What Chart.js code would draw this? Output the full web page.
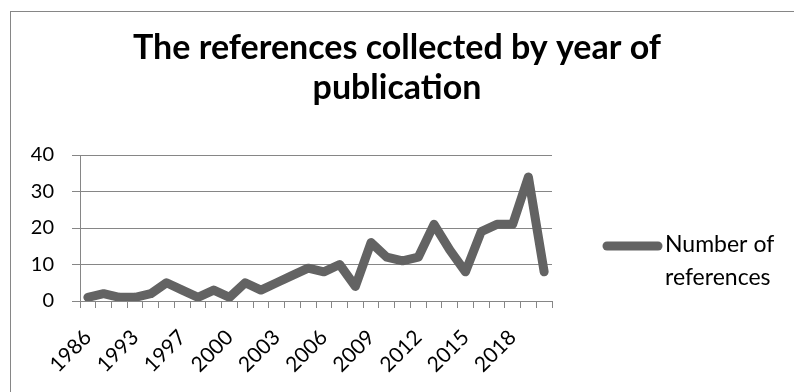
<!DOCTYPE html>
<html>
<head>
<meta charset="utf-8">
<script src="https://cdn.jsdelivr.net/npm/chart.js@4/dist/chart.umd.min.js"></script>
<style>
  html, body { margin: 0; padding: 0; background: #fff; }
  #wrap { position: relative; width: 794px; height: 392px; overflow: hidden; }
  #frame { position: absolute; left: 10px; top: 11px; width: 900px; height: 500px;
           border-left: 1px solid #868686; border-top: 1px solid #868686; box-sizing: border-box; }
  canvas { position: absolute; left: 0; top: 0; }
</style>
</head>
<body>
<div id="wrap">
  <div id="frame"></div>
  <canvas id="c" width="794" height="392"></canvas>
</div>
<script>
const titleLines = ['The references collected by year of', 'publication'];
const seriesName = 'Number of references';
const legendLines = ['Number of', 'references'];
const years = ['1986','1989','1991','1993','1994','1996','1997','1998','1999','2000',
               '2001','2002','2003','2004','2005','2006','2007','2008','2009','2010',
               '2011','2012','2013','2014','2015','2016','2017','2018','2019','2020'];
const counts = [1,2,1,1,2,5,3,1,3,1,
                5,3,5,7,9,8,10,4,16,12,
                11,12,21,14,8,19,21,21,34,8];
const yTicks = [0,10,20,30,40];

const FONT = 'Lato';
const GRID = '#868686';
const LINE = '#636363';

const legendPlugin = {
  id: 'sideLegend',
  afterDraw(chart) {
    const ctx = chart.ctx;
    const ds = chart.data.datasets[0];
    const y0 = 246;
    ctx.save();
    ctx.strokeStyle = ds.borderColor;
    ctx.lineWidth = ds.borderWidth;
    ctx.lineCap = 'round';
    ctx.beginPath();
    ctx.moveTo(607, y0);
    ctx.lineTo(658, y0);
    ctx.stroke();
    ctx.fillStyle = '#000';
    ctx.font = '23px ' + FONT;
    ctx.textBaseline = 'alphabetic';
    ctx.textAlign = 'left';
    legendLines.forEach((t, i) => ctx.fillText(t, 665, 252 + i * 33));
    ctx.restore();
  }
};

new Chart(document.getElementById('c'), {
  type: 'line',
  data: {
    labels: years,
    datasets: [{
      label: seriesName,
      data: counts,
      borderColor: LINE,
      backgroundColor: LINE,
      borderWidth: 9,
      pointRadius: 0,
      tension: 0,
      borderJoinStyle: 'round',
      borderCapStyle: 'round',
      fill: false
    }]
  },
  options: {
    responsive: false,
    animation: false,
    layout: { padding: 0 },
    plugins: {
      legend: { display: false },
      tooltip: { enabled: false },
      title: {
        display: true,
        text: titleLines,
        color: '#000',
        font: { family: FONT, size: 34, weight: 'bold', lineHeight: '40px' },
        padding: { top: 28, bottom: 47 }
      }
    },
    scales: {
      x: {
        type: 'category',
        offset: true,
        grid: { display: true, offset: true, drawOnChartArea: false, drawTicks: true,
                tickLength: 7, color: GRID, lineWidth: 1 },
        border: { display: true, color: GRID, width: 1 },
        ticks: {
          autoSkip: false, maxRotation: 45, minRotation: 45, color: '#000',
          font: { family: FONT, size: 21 }, padding: 17,
          callback: function(v, i) { return i % 3 === 0 ? this.getLabelForValue(v) : ''; }
        },
        afterFit: s => { s.height = 91; }
      },
      y: {
        min: 0, max: 40,
        afterBuildTicks: s => { s.ticks = yTicks.map(v => ({ value: v })); },
        grid: { color: GRID, lineWidth: 1, tickLength: 8, drawTicks: true },
        border: { display: true, color: GRID, width: 1 },
        ticks: { color: '#000', font: { family: FONT, size: 20 }, padding: 18 },
        afterFit: s => { s.width = 80; }
      },
      spacer: {
        type: 'linear', position: 'right', display: true,
        grid: { display: false }, border: { display: false },
        ticks: { display: false },
        afterFit: s => { s.width = 242; }
      }
    }
  },
  plugins: [legendPlugin]
});
</script>
</body>
</html>
